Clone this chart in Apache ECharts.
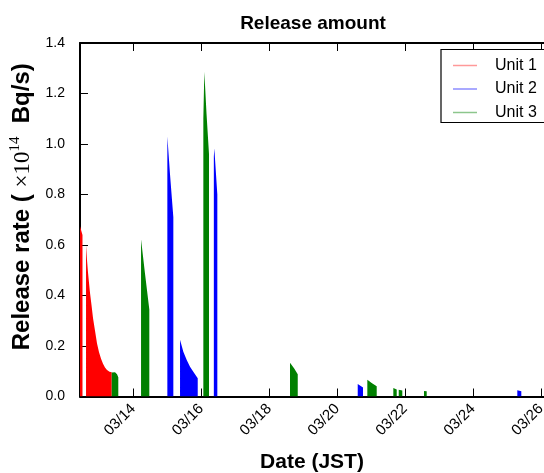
<!DOCTYPE html>
<html>
<head>
<meta charset="utf-8">
<script src="https://cdn.jsdelivr.net/npm/echarts@6/dist/echarts.min.js"></script>
<style>
  html, body { margin: 0; padding: 0; background: #fff; }
  #main { width: 544px; height: 473px; }
</style>
</head>
<body>
<div id="main"></div>
<script>
// release pieces, one list per unit, pieces split by null (each piece is filled down to 0)
var unit1 = [
  ['03/12 10:00', 0.68], ['03/12 12:05', 0.64], null,
  ['03/12 14:35', 0.60], ['03/12 15:17', 0.54], ['03/12 16:00', 0.49], ['03/12 16:42', 0.45],
  ['03/12 17:24', 0.41], ['03/12 18:29', 0.36], ['03/12 19:32', 0.31], ['03/12 20:56', 0.26],
  ['03/12 22:21', 0.21], ['03/12 23:46', 0.175], ['03/13 01:11', 0.15], ['03/13 02:35', 0.13],
  ['03/13 03:59', 0.115], ['03/13 05:24', 0.105], ['03/13 07:11', 0.098], ['03/13 08:44', 0.096]
];
var unit2 = [
  ['03/15 00:02', 1.03], ['03/15 01:55', 0.88], ['03/15 04:16', 0.71], null,
  ['03/15 09:00', 0.225], ['03/15 11:20', 0.177], ['03/15 13:44', 0.145], ['03/15 16:03', 0.118],
  ['03/15 18:23', 0.098], ['03/15 21:30', 0.072], null,
  ['03/16 08:53', 0.95], ['03/16 09:13', 0.983], ['03/16 11:21', 0.80], null,
  ['03/20 14:33', 0.05], ['03/20 18:17', 0.036], null,
  ['03/25 07:18', 0.025], ['03/25 10:08', 0.021]
];
var unit3 = [
  ['03/13 08:44', 0.095], ['03/13 09:39', 0.098], ['03/13 11:04', 0.096], ['03/13 12:29', 0.088],
  ['03/13 13:23', 0.076], null,
  ['03/14 05:27', 0.623], ['03/14 08:17', 0.485], ['03/14 11:18', 0.345], null,
  ['03/16 01:28', 1.10], ['03/16 02:10', 1.286], ['03/16 03:43', 1.12], ['03/16 05:28', 0.96], null,
  ['03/18 14:43', 0.134], ['03/18 17:33', 0.112], ['03/18 20:10', 0.088], null,
  ['03/20 21:20', 0.066], ['03/21 00:39', 0.052], ['03/21 03:58', 0.041], null,
  ['03/21 15:42', 0.034], ['03/21 18:06', 0.028], null,
  ['03/21 19:31', 0.027], ['03/21 22:03', 0.024], null,
  ['03/22 13:23', 0.022], ['03/22 15:17', 0.021]
];
var dateTicks = [14, 16, 18, 20, 22, 24, 26];   // day of March
var unitNames = ['Unit 1', 'Unit 2', 'Unit 3'];
var unitColors = ['#ff0000', '#0000ff', '#008000'];
var legendColors = ['rgba(255,0,0,0.4)', 'rgba(0,0,255,0.45)', 'rgba(0,128,0,0.45)'];

// '03/12 14:35' -> day of March (12.6076...)
function day(s) {
  var m = s.match(/(\d+)\/(\d+) (\d+):(\d+)/);
  return +m[2] + (+m[3]) / 24 + (+m[4]) / 1440;
}

// every piece gets vertical edges down to zero
function build(list) {
  var out = [], piece = [];
  function flush() {
    if (!piece.length) return;
    out.push([piece[0][0], 0]);
    piece.forEach(function (p) { out.push(p); });
    out.push([piece[piece.length - 1][0], 0]);
    piece = [];
  }
  list.forEach(function (p) {
    if (p === null) flush();
    else piece.push([day(p[0]), p[1]]);
  });
  flush();
  return out;
}

var chart = echarts.init(document.getElementById('main'));
var font = 'Liberation Sans, Arial, sans-serif';

option = {
  animation: false,
  backgroundColor: '#fff',
  textStyle: { fontFamily: font },
  title: {
    text: 'Release amount',
    left: 308,
    textAlign: 'center',
    top: 9,
    textStyle: { fontSize: 19, fontWeight: 'bold', color: '#000', fontFamily: font }
  },
  // the plot runs on past the right edge of the picture
  grid: { left: 80, top: 43, right: 0, height: 353.5, outerBoundsMode: 'none' },
  graphic: [{
    type: 'rect',
    z: 3,
    shape: { x: 441, y: 49.5, width: 200, height: 73 },
    style: { fill: '#fff', stroke: '#000', lineWidth: 1.2 }
  }],
  legend: {
    orient: 'vertical',
    left: 441,
    top: 50.5,
    z: 4,
    padding: [7, 30, 4, 12],
    itemGap: 7.5,
    itemWidth: 24,
    itemHeight: 1.5,
    icon: 'rect',
    textStyle: { fontSize: 16, color: '#000', fontFamily: font, padding: [0, 0, 0, 13] },
    data: unitNames.map(function (n, i) {
      return { name: n, itemStyle: { color: legendColors[i] } };
    })
  },
  xAxis: [{
    type: 'value',
    min: 12.43,
    max: 26.09,
    position: 'bottom',
    name: 'Date (JST)',
    nameLocation: 'middle',
    nameGap: 55,
    nameTextStyle: { fontSize: 21, fontWeight: 'bold', color: '#000', fontFamily: font },
    axisLine: { lineStyle: { color: '#000', width: 2 } },
    axisTick: { inside: true, length: 8, customValues: dateTicks, lineStyle: { color: '#000', width: 1 } },
    axisLabel: {
      customValues: dateTicks,
      rotate: 45,
      margin: 10,
      fontSize: 15,
      color: '#000',
      formatter: function (v) { return '03/' + v; }
    },
    splitLine: { show: false }
  }, {
    type: 'value',
    min: 12.43,
    max: 26.09,
    position: 'top',
    axisLine: { lineStyle: { color: '#000', width: 2 } },
    axisTick: { inside: true, length: 8, customValues: dateTicks, lineStyle: { color: '#000', width: 1 } },
    axisLabel: { show: false },
    splitLine: { show: false }
  }],
  yAxis: {
    type: 'value',
    min: 0,
    max: 1.4,
    interval: 0.2,
    name: '{b|Release rate ( }{m|\u00d710}{s|14}{b|  Bq/s)}',
    nameLocation: 'middle',
    nameRotate: 90,
    nameGap: 35,
    nameTextStyle: {
      padding: [0, 0, 0, 26],
      rich: {
        b: { fontSize: 24, fontWeight: 'bold', color: '#000', fontFamily: font, lineHeight: 30 },
        m: { fontSize: 23, color: '#000', fontFamily: 'Liberation Serif, serif', lineHeight: 30 },
        s: { fontSize: 15, color: '#000', fontFamily: 'Liberation Serif, serif', verticalAlign: 'top', lineHeight: 30 }
      }
    },
    axisLine: { show: true, lineStyle: { color: '#000', width: 2 } },
    axisTick: { inside: true, length: 8, lineStyle: { color: '#000', width: 1 } },
    axisLabel: {
      margin: 15,
      fontSize: 14,
      color: '#000',
      formatter: function (v) { return v.toFixed(1); }
    },
    splitLine: { show: false }
  },
  series: [unit1, unit2, unit3].map(function (list, i) {
    return {
      name: unitNames[i],
      type: 'line',
      xAxisIndex: 0,
      data: build(list),
      symbol: 'none',
      showSymbol: false,
      lineStyle: { width: 0 },
      itemStyle: { color: unitColors[i] },
      areaStyle: { color: unitColors[i], opacity: 1 },
      clip: true
    };
  })
};
chart.setOption(option);
</script>
</body>
</html>
